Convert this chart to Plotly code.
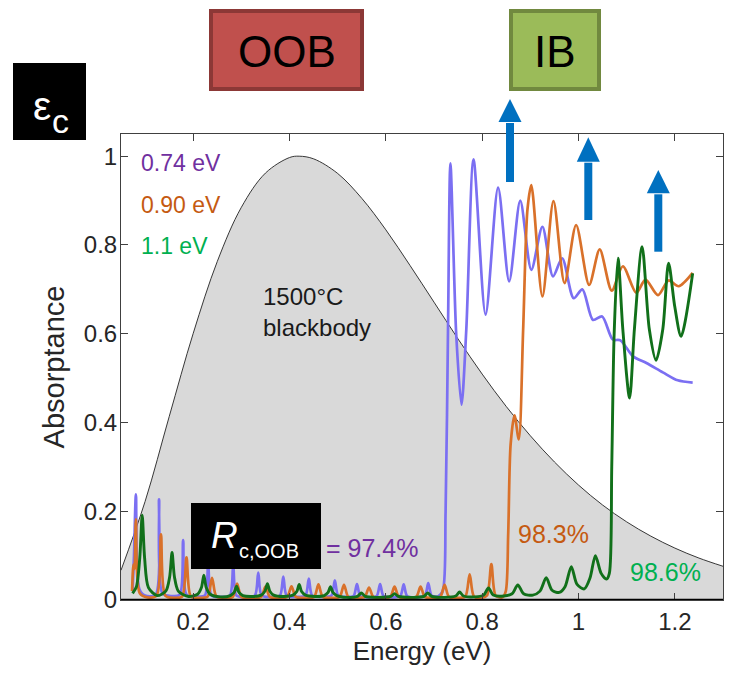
import plotly.graph_objects as go

# ---------------- data ----------------
bb_energy = [0.05, 0.10, 0.15, 0.20, 0.25, 0.30, 0.35, 0.40, 0.42, 0.45, 0.50, 0.55, 0.60, 0.65,
             0.70, 0.75, 0.80, 0.85, 0.90, 0.95, 1.00, 1.05, 1.10, 1.15, 1.20, 1.25, 1.30]
bb_value = [0.067, 0.222, 0.413, 0.601, 0.763, 0.885, 0.962, 0.997, 1.000, 0.994, 0.961, 0.905, 0.834, 0.754,
            0.671, 0.588, 0.509, 0.436, 0.370, 0.311, 0.259, 0.214, 0.176, 0.144, 0.117, 0.0945, 0.076]

e074_energy = [0.074, 0.077, 0.081, 0.088, 0.100, 0.122, 0.129, 0.136, 0.155, 0.172, 0.179, 0.186, 0.205,
               0.224, 0.231, 0.238, 0.257, 0.276, 0.283, 0.290, 0.310, 0.328, 0.335, 0.342, 0.362,
               0.380, 0.387, 0.394, 0.415, 0.433, 0.440, 0.447, 0.468, 0.487, 0.494, 0.501, 0.518,
               0.533, 0.540, 0.547, 0.565, 0.581, 0.588, 0.595, 0.612, 0.630, 0.637, 0.644, 0.662,
               0.681, 0.688, 0.695, 0.708, 0.718, 0.724, 0.729, 0.734, 0.746, 0.757, 0.767, 0.782,
               0.807, 0.833, 0.856, 0.879, 0.902, 0.925, 0.947, 0.966, 0.990, 1.008, 1.030, 1.049,
               1.071, 1.087, 1.113, 1.141, 1.175, 1.206, 1.237]
e074_abs = [0.020, 0.100, 0.238, 0.025, 0.010, 0.012, 0.227, 0.015, 0.009, 0.012, 0.135, 0.012, 0.008,
            0.010, 0.078, 0.010, 0.007, 0.010, 0.075, 0.010, 0.007, 0.010, 0.062, 0.010, 0.007,
            0.010, 0.053, 0.010, 0.007, 0.010, 0.048, 0.010, 0.007, 0.010, 0.044, 0.010, 0.007,
            0.009, 0.036, 0.009, 0.006, 0.009, 0.036, 0.009, 0.006, 0.009, 0.035, 0.009, 0.006,
            0.010, 0.038, 0.010, 0.008, 0.020, 0.200, 0.610, 0.984, 0.600, 0.440, 0.610, 0.993,
            0.643, 0.929, 0.718, 0.900, 0.744, 0.841, 0.729, 0.770, 0.680, 0.700, 0.631, 0.639,
            0.587, 0.585, 0.549, 0.534, 0.513, 0.495, 0.490]

e090_energy = [0.073, 0.076, 0.078, 0.081, 0.089, 0.105, 0.124, 0.133, 0.142, 0.160, 0.177, 0.186, 0.195,
               0.212, 0.230, 0.239, 0.248, 0.265, 0.282, 0.291, 0.300, 0.320, 0.341, 0.350, 0.359,
               0.378, 0.395, 0.404, 0.413, 0.432, 0.451, 0.460, 0.469, 0.488, 0.504, 0.513, 0.522,
               0.540, 0.556, 0.565, 0.574, 0.592, 0.609, 0.618, 0.627, 0.645, 0.663, 0.672, 0.681,
               0.698, 0.713, 0.722, 0.731, 0.750, 0.765, 0.774, 0.783, 0.800, 0.810, 0.819, 0.828,
               0.842, 0.849, 0.854, 0.859, 0.867, 0.876, 0.885, 0.894, 0.902, 0.925, 0.948, 0.971,
               0.995, 1.022, 1.044, 1.069, 1.092, 1.120, 1.139, 1.165, 1.187, 1.208, 1.237]
e090_abs = [0.020, 0.080, 0.070, 0.182, 0.015, 0.006, 0.010, 0.148, 0.010, 0.005, 0.008, 0.096, 0.008,
            0.005, 0.008, 0.050, 0.008, 0.005, 0.007, 0.037, 0.007, 0.005, 0.007, 0.030, 0.007,
            0.005, 0.007, 0.031, 0.007, 0.005, 0.007, 0.035, 0.007, 0.005, 0.007, 0.034, 0.007,
            0.005, 0.007, 0.028, 0.007, 0.005, 0.007, 0.030, 0.007, 0.005, 0.007, 0.030, 0.007,
            0.005, 0.007, 0.034, 0.007, 0.005, 0.008, 0.058, 0.008, 0.005, 0.010, 0.081, 0.010,
            0.006, 0.020, 0.150, 0.350, 0.416, 0.362, 0.609, 0.880, 0.935, 0.684, 0.899, 0.714,
            0.845, 0.710, 0.790, 0.697, 0.752, 0.692, 0.722, 0.687, 0.720, 0.707, 0.737]

e110_energy = [0.074, 0.082, 0.089, 0.094, 0.099, 0.107, 0.125, 0.143, 0.151, 0.156, 0.161, 0.169, 0.190,
               0.209, 0.217, 0.222, 0.227, 0.235, 0.256, 0.277, 0.285, 0.290, 0.295, 0.303, 0.322,
               0.341, 0.349, 0.354, 0.359, 0.367, 0.388, 0.407, 0.415, 0.420, 0.425, 0.433, 0.453,
               0.472, 0.480, 0.485, 0.490, 0.498, 0.518, 0.541, 0.549, 0.557, 0.585, 0.610, 0.618,
               0.626, 0.655, 0.679, 0.687, 0.695, 0.722, 0.745, 0.753, 0.761, 0.785, 0.803, 0.813,
               0.823, 0.845, 0.862, 0.874, 0.886, 0.905, 0.920, 0.933, 0.945, 0.960, 0.972, 0.985,
               0.997, 1.012, 1.024, 1.035, 1.047, 1.058, 1.064, 1.069, 1.074, 1.082, 1.092, 1.106,
               1.116, 1.132, 1.147, 1.161, 1.175, 1.187, 1.200, 1.213, 1.237]
e110_abs = [0.015, 0.030, 0.095, 0.191, 0.095, 0.028, 0.010, 0.020, 0.052, 0.107, 0.052, 0.020, 0.008,
            0.013, 0.028, 0.056, 0.028, 0.013, 0.007, 0.010, 0.017, 0.031, 0.017, 0.010, 0.008,
            0.011, 0.020, 0.037, 0.020, 0.011, 0.008, 0.011, 0.019, 0.035, 0.019, 0.011, 0.008,
            0.010, 0.017, 0.030, 0.017, 0.010, 0.006, 0.008, 0.016, 0.008, 0.006, 0.008, 0.014,
            0.008, 0.006, 0.008, 0.016, 0.008, 0.006, 0.009, 0.018, 0.009, 0.007, 0.011, 0.027,
            0.011, 0.009, 0.014, 0.034, 0.014, 0.011, 0.020, 0.050, 0.022, 0.017, 0.030, 0.075,
            0.035, 0.025, 0.050, 0.100, 0.060, 0.047, 0.060, 0.300, 0.600, 0.770, 0.610, 0.455,
            0.610, 0.796, 0.610, 0.540, 0.610, 0.759, 0.660, 0.594, 0.736]

x_ticks = [0.2, 0.4, 0.6, 0.8, 1.0, 1.2]
x_tick_labels = ["0.2", "0.4", "0.6", "0.8", "1", "1.2"]
y_ticks = [0, 0.2, 0.4, 0.6, 0.8, 1.0]
y_tick_labels = ["0", "0.2", "0.4", "0.6", "0.8", "1"]

# ---------------- layout helpers ----------------
W, H = 729, 678
ML, MR, MT, MB = 121, 6, 134, 78
PW, PH = W - ML - MR, H - MT - MB
FONT = "Liberation Sans, Arial, Helvetica, sans-serif"


def px(x):
    return (x - ML) / PW


def py(y):
    return (H - MB - y) / PH


PURPLE = "#7b6ff2"
ORANGE = "#d9712a"
GREEN = "#11701a"

fig = go.Figure()
fig.add_trace(go.Scatter(x=bb_energy, y=bb_value, mode="lines", fill="tozeroy",
                         fillcolor="#d9d9d9", line=dict(color="#222222", width=0.9, shape="spline"),
                         hoverinfo="skip"))
fig.add_trace(go.Scatter(x=e074_energy, y=e074_abs, mode="lines",
                         line=dict(color=PURPLE, width=2.7, shape="spline", smoothing=0.8)))
fig.add_trace(go.Scatter(x=e090_energy, y=e090_abs, mode="lines",
                         line=dict(color=ORANGE, width=2.7, shape="spline", smoothing=0.8)))
fig.add_trace(go.Scatter(x=e110_energy, y=e110_abs, mode="lines",
                         line=dict(color=GREEN, width=2.9, shape="spline", smoothing=0.8)))

shapes = []
# bottom thick line at y=0
shapes.append(dict(type="line", xref="paper", yref="y", x0=0, x1=1, y0=0, y1=0,
                   line=dict(color="black", width=2.5), layer="above"))
# OOB / IB boxes
shapes.append(dict(type="rect", xref="paper", yref="paper", x0=px(211), x1=px(362), y0=py(89), y1=py(11),
                   fillcolor="#c0504d", line=dict(color="#8c3836", width=4)))
shapes.append(dict(type="rect", xref="paper", yref="paper", x0=px(511), x1=px(599), y0=py(89), y1=py(11),
                   fillcolor="#9bbb59", line=dict(color="#71893f", width=4)))
# black label boxes
shapes.append(dict(type="rect", xref="paper", yref="paper", x0=px(13), x1=px(86), y0=py(140), y1=py(63),
                   fillcolor="black", line=dict(width=0)))
shapes.append(dict(type="rect", xref="paper", yref="paper", x0=px(191), x1=px(321), y0=py(569), y1=py(503),
                   fillcolor="black", line=dict(width=0), layer="above"))

# blue arrows: (center x, tip y, head base y, shaft bottom y)
for cx, tip, base, bottom in [(510, 99, 122, 182), (588.3, 137.3, 161.7, 220), (658.3, 170, 193.3, 251.7)]:
    shapes.append(dict(type="rect", xref="paper", yref="paper", x0=px(cx - 4), x1=px(cx + 4),
                       y0=py(bottom), y1=py(base + 1), fillcolor="#0070c0", line=dict(width=0), layer="above"))
    path = "M {} {} L {} {} L {} {} Z".format(px(cx - 11.5), py(base), px(cx + 11.5), py(base), px(cx), py(tip))
    shapes.append(dict(type="path", xref="paper", yref="paper", path=path, fillcolor="#0070c0",
                       line=dict(width=0), layer="above"))

ann = []


def pann(text, x, y, size, color="black", xanchor="center", yanchor="middle", **kw):
    ann.append(dict(text=text, xref="paper", yref="paper", x=px(x), y=py(y), showarrow=False,
                    xanchor=xanchor, yanchor=yanchor, font=dict(family=FONT, size=size, color=color), **kw))


def dann(text, x, y, size, color, xanchor="left", yanchor="middle", align="left"):
    ann.append(dict(text=text, xref="x", yref="y", x=x, y=y, showarrow=False, align=align,
                    xanchor=xanchor, yanchor=yanchor, font=dict(family=FONT, size=size, color=color)))


pann("OOB", 286.5, 51, 44)
pann("IB", 555, 51, 44)
pann("ε", 42, 106, 41, "white")
pann("c", 60, 121, 34, "white")
pann("<i>R</i>", 224, 535, 37, "white")
pann("c,OOB", 237, 551, 20, "white", xanchor="left")

dann("0.74 eV", 0.087, 0.985, 23, "#7030a0")
dann("0.90 eV", 0.087, 0.891, 23, "#c55a11")
dann("1.1 eV", 0.087, 0.797, 23, "#00b050")
dann("1500°C<br>blackbody", 0.340, 0.649, 24, "#1a1a1a")
dann("= 97.4%", 0.471, 0.117, 25, "#7030a0")
dann("98.3%", 0.871, 0.149, 25, "#c55a11")
dann("98.6%", 1.103, 0.062, 25, "#00b050")

axis_common = dict(showgrid=False, zeroline=False, showline=True, linecolor="#404040", linewidth=1,
                   mirror="ticks", ticks="inside", ticklen=7, tickcolor="#404040",
                   tickfont=dict(family=FONT, size=24, color="#262626"))

fig.update_layout(
    width=W, height=H, margin=dict(l=ML, r=MR, t=MT, b=MB, autoexpand=False),
    paper_bgcolor="white", plot_bgcolor="white", showlegend=False,
    shapes=shapes, annotations=ann,
    xaxis=dict(range=[0.05, 1.3], tickvals=x_ticks, ticktext=x_tick_labels,
               title=dict(text="Energy (eV)", font=dict(family=FONT, size=26, color="#262626"), standoff=8),
               ticklabelstandoff=0, automargin=False, **axis_common),
    yaxis=dict(range=[0, 1.05], tickvals=y_ticks, ticktext=y_tick_labels,
               title=dict(text="Absorptance", font=dict(family=FONT, size=29, color="#262626"), standoff=10),
               ticklabelstandoff=-2, automargin=False, **axis_common),
)

fig.write_html("out.html", config={"displayModeBar": False})

# remove the default page margin so the figure sits at the window origin
with open("out.html", encoding="utf-8") as f:
    page = f.read()
page = page.replace("<head>", "<head><style>html,body{margin:0;padding:0;overflow:hidden;}</style>", 1)
with open("out.html", "w", encoding="utf-8") as f:
    f.write(page)
